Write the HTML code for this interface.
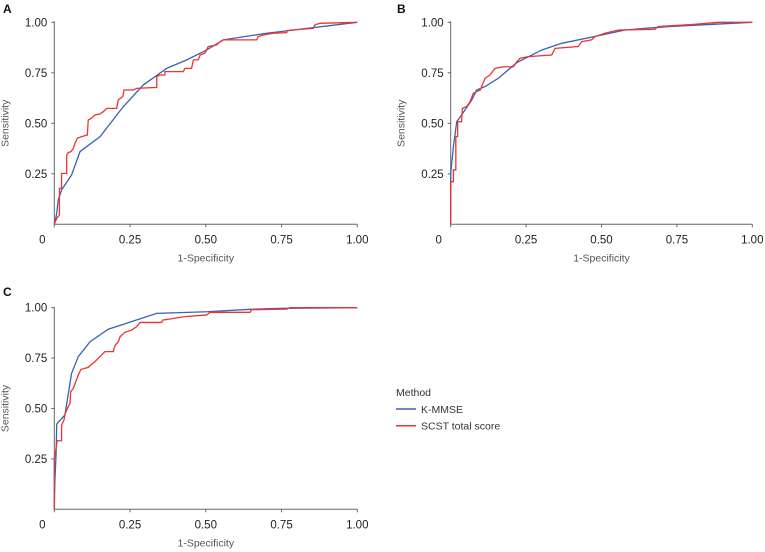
<!DOCTYPE html>
<html><head><meta charset="utf-8"><style>
body{margin:0;background:#fff;}
svg{display:block;font-family:"Liberation Sans",sans-serif;}
</style></head><body>
<svg id="chart" width="765" height="552" viewBox="0 0 765 552"></svg>
<script>
const ticks=[0,0.25,0.5,0.75,1];
const tickLabels=["0","0.25","0.50","0.75","1.00"];
const seriesNames=["K-MMSE","SCST total score"];
const aBlueX=[0,.008,.013,.024,.057,.085,.151,.228,.294,.371,.437,.503,.558,.701,1];
const aBlueY=[0,.054,.12,.17,.244,.36,.434,.583,.69,.772,.814,.863,.913,.946,1];
const aRedX=[0,.008,.017,.017,.024,.024,.041,.041,.046,.055,.063,.068,.076,.09,.109,.112,.123,.134,.151,.162,.173,.206,.211,.226,.23,.261,.272,.338,.338,.349,.365,.365,.426,.431,.453,.459,.475,.481,.497,.508,.536,.547,.558,.668,.673,.69,.723,.767,.767,.811,.855,.86,.877,1];
const aRedY=[0,.03,.046,.178,.178,.252,.252,.343,.355,.36,.376,.40,.426,.434,.442,.516,.525,.541,.546,.558,.574,.574,.616,.632,.665,.665,.673,.678,.731,.739,.739,.756,.756,.772,.772,.814,.814,.838,.847,.88,.888,.904,.913,.913,.929,.937,.946,.949,.959,.965,.97,.987,.995,1];
const bBlueX=[0,0,.009,.02,.036,.07,.086,.114,.158,.219,.302,.368,.501,.578,.722,1];
const bBlueY=[0,.252,.384,.508,.541,.616,.665,.682,.723,.8,.863,.896,.937,.962,.979,1];
const bRedX=[0,0,.009,.009,.017,.017,.023,.023,.036,.039,.053,.064,.075,.098,.114,.13,.147,.175,.208,.219,.23,.257,.335,.346,.423,.434,.467,.478,.511,.556,.677,.688,.777,.81,.887,1];
const bRedY=[0,.211,.211,.269,.269,.434,.434,.508,.508,.574,.583,.607,.649,.665,.723,.739,.772,.78,.78,.805,.822,.83,.838,.871,.88,.904,.913,.929,.946,.962,.965,.979,.987,.99,1,1];
const cBlueX=[0,.002,.006,.008,.035,.057,.079,.118,.178,.338,.503,.646,.756,1];
const cBlueY=[0,.145,.278,.423,.468,.674,.757,.831,.893,.972,.98,.992,.997,1];
const cRedX=[0,0,.008,.01,.024,.024,.032,.035,.041,.046,.052,.054,.063,.068,.079,.088,.112,.123,.134,.145,.156,.167,.195,.2,.211,.217,.233,.255,.272,.283,.354,.359,.382,.426,.503,.514,.646,.651,.767,.778,1];
const cRedY=[0,.245,.327,.34,.34,.418,.443,.468,.493,.509,.526,.583,.6,.621,.666,.694,.704,.719,.732,.749,.765,.782,.782,.812,.831,.856,.878,.889,.906,.927,.927,.939,.944,.955,.964,.977,.977,.99,.993,1,1];

const svg=document.getElementById('chart');
const NS='http://www.w3.org/2000/svg';
function mk(t,attrs,parent){const e=document.createElementNS(NS,t);for(const k in attrs)e.setAttribute(k,attrs[k]);(parent||svg).appendChild(e);return e;}

const panels=[
 {id:'a',letter:'A',lx:3,ly:13,x0:54.3,x1:357.3,y0:224.3,y1:22.3,bx:aBlueX,by:aBlueY,rx:aRedX,ry:aRedY},
 {id:'b',letter:'B',lx:397,ly:13,x0:450.7,x1:752.3,y0:224.3,y1:22.3,bx:bBlueX,by:bBlueY,rx:bRedX,ry:bRedY},
 {id:'c',letter:'C',lx:3,ly:296,x0:54.3,x1:357.3,y0:509.3,y1:307.7,bx:cBlueX,by:cBlueY,rx:cRedX,ry:cRedY}
];
panels.forEach(p=>{
 const g=mk('g',{});
 
 
 const sx=v=>p.x0+v*(p.x1-p.x0), sy=v=>p.y0+v*(p.y1-p.y0);
 const lt=mk('text',{x:p.lx,y:p.ly,'font-size':12,'font-weight':'bold',fill:'#111'},g);lt.textContent=p.letter;
 
 
 const ax=mk('path',{d:`M${p.x0},${p.y1-1}V${p.y0}H${p.x1}`,stroke:'#666','stroke-width':1,fill:'none'},g);
 
 
 ticks.forEach((t,i)=>{
  if(i>0){mk('line',{x1:p.x0-3,x2:p.x0,y1:sy(t),y2:sy(t),stroke:'#666'},g);
   const yl=mk('text',{x:p.x0-7,y:sy(t)+4,'font-size':11.5,'text-anchor':'end',fill:'#222'},g);yl.textContent=tickLabels[i];
   
   }
  mk('line',{x1:sx(t),x2:sx(t),y1:p.y0,y2:p.y0+3,stroke:'#666'},g);
  const xl=mk('text',{x:i==0?p.x0-12:sx(t),y:p.y0+19,'font-size':11.5,'text-anchor':'middle',fill:'#222'},g);xl.textContent=tickLabels[i];
  
  
 });
 const xt=mk('text',{x:(p.x0+p.x1)/2,y:p.y0+37,'font-size':10.5,'text-anchor':'middle',fill:'#555'},g);xt.textContent='1-Specificity';
 
 
 const cy=(p.y0+p.y1)/2, cx=p.x0-46;
 const yt=mk('text',{x:cx,y:cy,'font-size':10.5,'text-anchor':'middle',fill:'#555',transform:`rotate(-90 ${cx} ${cy})`},g);yt.textContent='Sensitivity';
 
 
 const bl=mk('polyline',{points:p.bx.map((v,i)=>sx(v)+','+sy(p.by[i])).join(' '),fill:'none',stroke:'#3b62b0','stroke-width':1.3},g);
 
 
 const rl=mk('polyline',{points:p.rx.map((v,i)=>sx(v)+','+sy(p.ry[i])).join(' '),fill:'none',stroke:'#ee3333','stroke-width':1.3},g);
 
 
});
const lg=mk('g',{});


const lt=mk('text',{x:396,y:396,'font-size':10.5,fill:'#333'},lg);lt.textContent='Method';


const cols=['#3b62b0','#ee3333'];
seriesNames.forEach((n,i)=>{
 const y=409+i*16.7;
 const ln=mk('line',{x1:396,x2:416,y1:y,y2:y,stroke:cols[i],'stroke-width':1.5},lg);
 
 
 const t=mk('text',{x:421,y:y+4,'font-size':10.5,fill:'#333'},lg);t.textContent=n;
 
 
});
</script>
</body></html>
